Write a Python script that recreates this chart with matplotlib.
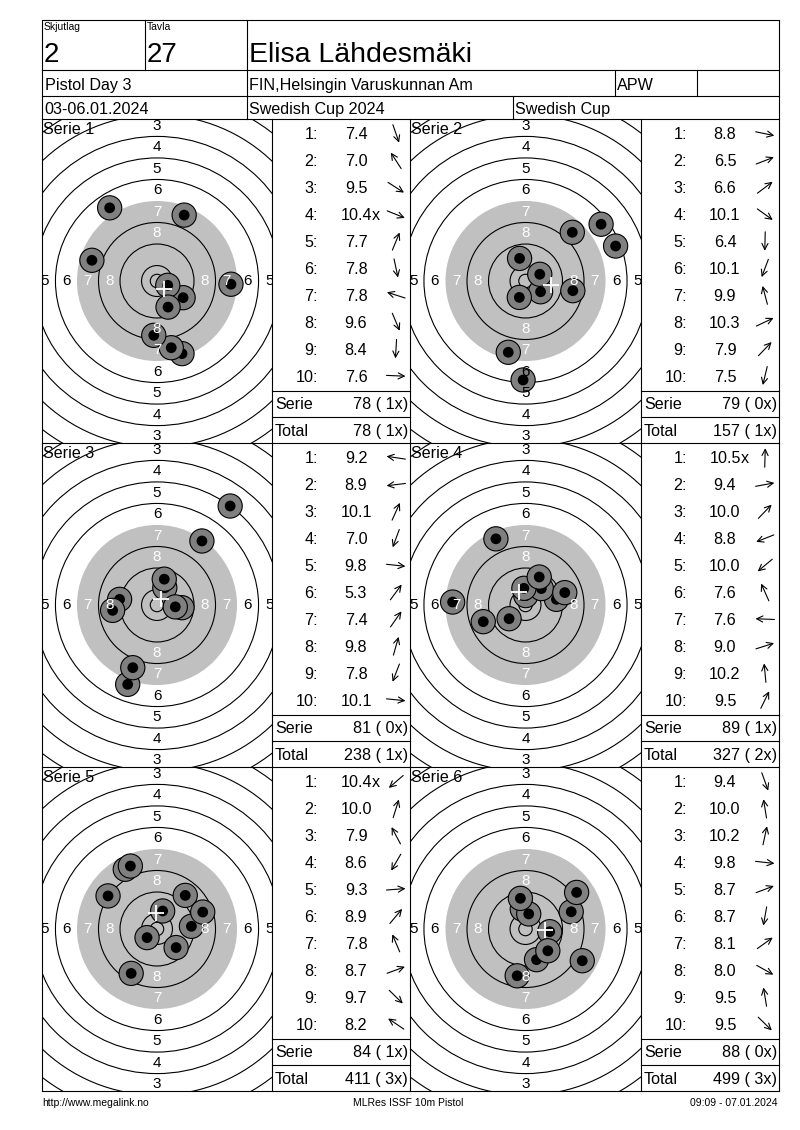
import numpy as np
import matplotlib.pyplot as plt
from matplotlib.patches import Circle

plt.rcParams['font.family'] = ['Liberation Sans', 'DejaVu Sans']

# header texts
squad = "2"
lane = "27"
shooter = "Elisa Lähdesmäki"
event = "Pistol Day 3"
club = "FIN,Helsingin Varuskunnan Am"
shooter_class = "APW"
dates = "03-06.01.2024"
competition = "Swedish Cup 2024"
cup = "Swedish Cup"
footer_left = "http://www.megalink.no"
footer_mid = "MLRes ISSF 10m Pistol"
footer_right = "09:09 - 07.01.2024"

series_names = ["Serie 1", "Serie 2", "Serie 3", "Serie 4", "Serie 5", "Serie 6"]

# decimal scores per shot
scores_s1 = [7.4, 7.0, 9.5, 10.4, 7.7, 7.8, 7.8, 9.6, 8.4, 7.6]
scores_s2 = [8.8, 6.5, 6.6, 10.1, 6.4, 10.1, 9.9, 10.3, 7.9, 7.5]
scores_s3 = [9.2, 8.9, 10.1, 7.0, 9.8, 5.3, 7.4, 9.8, 7.8, 10.1]
scores_s4 = [10.5, 9.4, 10.0, 8.8, 10.0, 7.6, 7.6, 9.0, 10.2, 9.5]
scores_s5 = [10.4, 10.0, 7.9, 8.6, 9.3, 8.9, 7.8, 8.7, 9.7, 8.2]
scores_s6 = [9.4, 10.0, 10.2, 9.8, 8.7, 8.7, 8.1, 8.0, 9.5, 9.5]

# shot numbers that are inner tens
inner_s1 = [4]
inner_s2 = []
inner_s3 = []
inner_s4 = [1]
inner_s5 = [1]
inner_s6 = []

# hit positions in mm from centre (x right, y up)
x_s1 = [9.3, -17.6, 9.7, 4.0, 10.1, 5.3, -24.2, 4.1, -1.2, 27.5]
y_s1 = [-27.0, 27.2, -6.2, -1.6, 24.5, -24.8, 7.7, -9.7, -20.2, -1.2]
x_s2 = [17.6, 33.5, 28.1, 5.6, -0.9, -2.3, -2.2, 5.3, 17.4, -6.4]
y_s2 = [-3.6, 13.0, 21.1, -4.0, -36.8, -6.1, 8.4, 2.5, 18.1, -26.5]
x_s3 = [-13.9, -16.5, 2.9, -10.9, 9.3, 27.2, 16.7, 2.7, -9.0, 6.8]
y_s3 = [2.1, -2.0, 6.4, -29.5, -1.0, 36.8, 23.8, 9.6, -23.3, -0.7]
x_s4 = [0.1, 11.5, 5.9, -15.7, -6.1, -11.0, -27.1, 14.6, -0.6, 5.1]
y_s4 = [3.5, 2.1, 6.1, -6.2, -5.1, 24.6, 1.1, 4.6, 6.2, 10.4]
x_s5 = [-3.7, 2.1, -11.8, -9.6, 12.8, 10.5, -9.9, 17.0, 7.1, -18.2]
y_s5 = [-3.2, 6.7, 22.2, -16.5, 1.0, 12.5, 23.4, 6.3, -6.9, 12.3]
x_s6 = [4.1, -1.2, 1.2, 9.0, 17.0, -3.1, 19.0, 21.1, -1.9, 8.3]
y_s6 = [-11.4, 7.4, 5.6, -1.0, 6.4, -17.4, 13.6, -11.8, 11.4, -8.1]

all_scores = [scores_s1, scores_s2, scores_s3, scores_s4, scores_s5, scores_s6]
all_inner = [inner_s1, inner_s2, inner_s3, inner_s4, inner_s5, inner_s6]
all_x = [x_s1, x_s2, x_s3, x_s4, x_s5, x_s6]
all_y = [y_s1, y_s2, y_s3, y_s4, y_s5, y_s6]

# ISSF 10m air pistol target, mm
ring_numbers = list(range(1, 11))
ring_radius = {n: 5.75 + (10 - n) * 8 for n in ring_numbers}
inner_ten_radius = 2.5
black_radius = 29.75
label_rings = [3, 4, 5, 6, 7, 8]

PX_MM = 2.69
W, H = 800, 1130


def pt_px(size):
    return size * 100 / 72


fig = plt.figure(figsize=(8, 11.3), dpi=100)
fig.patch.set_facecolor('white')


def draw_target(tx0, tx1, ty0, ty1, xs, ys):
    t = fig.add_axes([tx0 / W, 1 - ty1 / H, (tx1 - tx0) / W, (ty1 - ty0) / H])
    hw = (tx1 - tx0) / 2 / PX_MM
    hh = (ty1 - ty0) / 2 / PX_MM
    t.set_xlim(-hw, hw)
    t.set_ylim(-hh, hh)
    t.axis('off')
    t.add_patch(Circle((0, 0), black_radius, facecolor='#c0c0c0', edgecolor='none'))
    for n in ring_numbers:
        if n == 7:
            continue
        t.add_patch(Circle((0, 0), ring_radius[n], fill=False, edgecolor='black', lw=0.8))
    t.add_patch(Circle((0, 0), inner_ten_radius, fill=False, edgecolor='black', lw=0.8))
    for n in label_rings:
        r = ring_radius[n] - 4
        c = 'white' if n >= 7 else 'black'
        for px, py in [(0, r), (0, -r), (r, 0), (-r, 0)]:
            # labels outside the cell are not shown
            if abs(px) > hw or abs(py) > hh:
                continue
            t.text(px, py, str(n), ha='center', va='center', fontsize=11, color=c,
                   clip_on=True)
    for x, y in zip(xs, ys):
        t.add_patch(Circle((x, y), 4.5, facecolor='#808080', edgecolor='black', lw=0.8))
        t.add_patch(Circle((x, y), 2.0, facecolor='black', edgecolor='none'))
    t.plot(np.mean(xs), np.mean(ys), marker='+', color='white', markersize=11, mew=1.3)


ax = fig.add_axes([0, 0, 1, 1])
ax.set_xlim(0, W)
ax.set_ylim(H, 0)
ax.axis('off')
ax.patch.set_alpha(0)
ax.set_zorder(5)

L, R, TOP, BOT = 42, 779, 20, 1091
LW = 0.8


def txt(x, yc, s, size, ha='left', **kw):
    return ax.text(x, yc + 0.358 * pt_px(size), s, ha=ha, va='baseline', fontsize=size, **kw)


# header
ax.plot([L, R, R, L, L], [TOP, TOP, BOT, BOT, TOP], color='black', lw=LW)
for yy in [70, 96, 119]:
    ax.plot([L, R], [yy, yy], color='black', lw=LW)
ax.plot([145, 145], [TOP, 70], color='black', lw=LW)
ax.plot([247, 247], [TOP, 119], color='black', lw=LW)
ax.plot([615, 615], [70, 96], color='black', lw=LW)
ax.plot([697, 697], [70, 96], color='black', lw=LW)
ax.plot([513, 513], [96, 119], color='black', lw=LW)

txt(44, 26, "Skjutlag", 7.5)
txt(147, 26, "Tavla", 7.5)
txt(44, 52, squad, 20)
txt(147, 52, lane, 20)
txt(249, 52, shooter, 20.5)
txt(45, 84, event, 11.6)
txt(249, 84, club, 11.6)
txt(617, 84, shooter_class, 11.6)
txt(44, 108, dates, 11.6)
txt(249, 108, competition, 11.6)
txt(515, 108, cup, 11.6)

# series blocks
block_h = 324
target_x = [(42, 272), (410, 641)]
table_x = [(272, 410), (641, 779)]
grand = 0
grand_x = 0
for i in range(6):
    r, c = divmod(i, 2)
    top = 119 + block_h * r
    tx0, tx1 = target_x[c]
    bx0, bx1 = table_x[c]
    draw_target(tx0, tx1, top, top + block_h, all_x[i], all_y[i])
    txt(tx0 + 1, top + 9, series_names[i], 11.6)

    sc = all_scores[i]
    for k, s in enumerate(sc):
        yc = top + 14.7 + 26.9 * k
        txt(bx0 + 46, yc, f"{k + 1}:", 11.6, ha='right')
        t = txt(bx0 + 84, yc, f"{s:.1f}", 11.6, ha='center')
        if (k + 1) in all_inner[i]:
            ax.annotate("x", xy=(1, 0), xycoords=t, xytext=(0, 0), textcoords='offset points',
                        ha='left', va='bottom', fontsize=11.6)
        ang = np.arctan2(all_y[i][k], all_x[i][k])
        dx, dy = 9.5 * np.cos(ang), -9.5 * np.sin(ang)
        cx = bx0 + 124
        ax.annotate("", xy=(cx + dx, yc + dy), xytext=(cx - dx, yc - dy),
                    arrowprops=dict(arrowstyle='->', lw=0.8, color='black',
                                    mutation_scale=11, shrinkA=0, shrinkB=0))

    serie_tot = sum(int(s) for s in sc)
    serie_x = len(all_inner[i])
    grand += serie_tot
    grand_x += serie_x
    ax.plot([bx0, bx1], [top + 271.7, top + 271.7], color='black', lw=LW)
    ax.plot([bx0, bx1], [top + 298, top + 298], color='black', lw=LW)
    txt(bx0 + 3, top + 284.5, "Serie", 11.6)
    txt(bx1 - 2, top + 284.5, f"{serie_tot} ({serie_x:2d}x)", 11.6, ha='right')
    txt(bx0 + 3, top + 311, "Total", 11.6)
    txt(bx1 - 2, top + 311, f"{grand} ({grand_x:2d}x)", 11.6, ha='right')

for yy in [443, 767]:
    ax.plot([L, R], [yy, yy], color='black', lw=LW)
for xx in [272, 410, 641]:
    ax.plot([xx, xx], [119, BOT], color='black', lw=LW)

# footer
txt(42, 1102, footer_left, 7.5)
txt(408, 1102, footer_mid, 7.5, ha='center')
txt(778, 1102, footer_right, 7.5, ha='right')

fig.savefig('out.png', dpi=100)
